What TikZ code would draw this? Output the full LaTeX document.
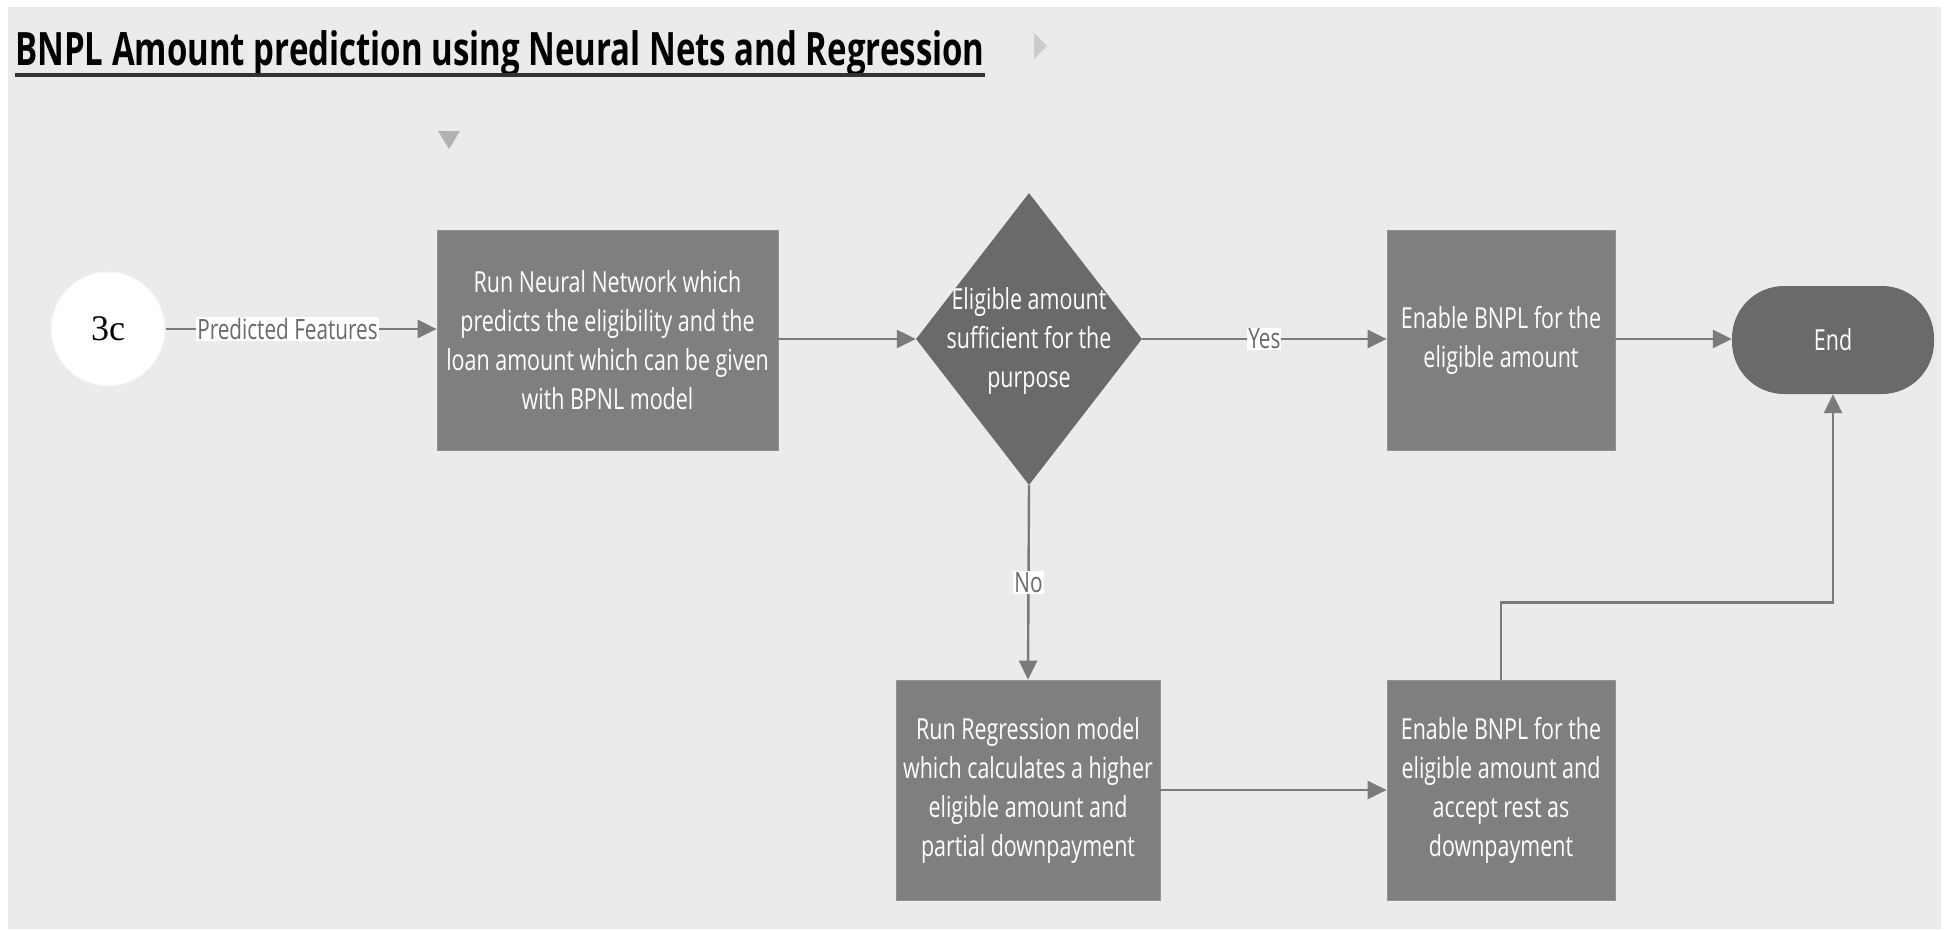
\documentclass[tikz,border=0pt]{standalone}
\usepackage{fontspec}
\usetikzlibrary{arrows.meta,shapes.geometric,calc}
\newfontfamily\flowfont[FakeStretch=0.74]{Open Sans}
\newfontfamily\flowbold[FakeStretch=0.717]{Open Sans Bold}
\newfontfamily\markfont{Liberation Serif}
\definecolor{pagebg}{HTML}{EBEBEB}
\definecolor{boxfill}{HTML}{7F7F7F}
\definecolor{darkfill}{HTML}{6A6A6A}
\definecolor{linegray}{HTML}{7A7A7A}
\definecolor{labelgray}{HTML}{6A6A6A}
\tikzset{
  boxfont/.style={font=\flowfont\fontsize{29}{39}\selectfont},
  processbox/.style={rectangle, fill=boxfill, draw=boxfill!85!white, line width=0.8pt,
    text=white, align=center, inner sep=0pt, boxfont},
  decision/.style={diamond, fill=darkfill, inner sep=0pt, minimum width=226pt, minimum height=292pt},
  decisiontext/.style={text=white, align=center, inner sep=0pt, boxfont},
  terminal/.style={rectangle, rounded corners=52pt, fill=darkfill, text=white,
    minimum width=202pt, minimum height=108pt, inner sep=0pt, boxfont},
  connector/.style={line width=2.4pt, draw=linegray, -{Triangle[length=19pt,width=18pt]}},
  edgelabel/.style={fill=white, text=labelgray, inner sep=1pt, font=\flowfont\fontsize{28}{30}\selectfont},
}
\begin{document}
\begin{tikzpicture}[x=1pt,y=-1pt]
  % page background with its light frame
  \fill[white] (0,0) rectangle (1946,929);
  \fill[pagebg] (8,7) rectangle (1941,929);
  \useasboundingbox (0,0) rectangle (1946,929);

  % heading
  \node[anchor=base west, inner sep=0pt, font=\flowbold\fontsize{46}{50}\selectfont] (title) at (15,65)
    {BNPL Amount prediction using Neural Nets and Regression};
  \draw[line width=4pt, draw=black!80] ([yshift=-10pt]title.base west) -- ([yshift=-10pt]title.base east);

  % small marker triangles
  \fill[black!20] (1034,33) -- (1047,46) -- (1034,59) -- cycle;
  \fill[black!30] (438,131) -- (460,131) -- (449,149) -- cycle;

  % nodes
  \node[circle, fill=white, draw=blue!5, line width=1pt, minimum size=114pt, inner sep=0pt,
        font=\markfont\fontsize{36}{40}\selectfont] (start) at (108,329) {3c};
  \node[processbox, minimum width=341pt, minimum height=220pt] (nn) at (607.5,340)
    {Run Neural Network which\\predicts the eligibility and the\\loan amount which can be given\\with BPNL model};
  \node[decision] (dec) at (1029,339) {};
  \node[decisiontext] (dectext) at (1029,341) {Eligible amount\\sufficient for the\\purpose};
  \node[processbox, minimum width=228pt, minimum height=220pt] (full) at (1501,340)
    {Enable BNPL for the\\eligible amount};
  \node[terminal] (stop) at (1833,340) {End};
  \node[processbox, minimum width=264pt, minimum height=220pt] (reg) at (1028,790)
    {Run Regression model\\which calculates a higher\\eligible amount and\\partial downpayment};
  \node[processbox, minimum width=228pt, minimum height=220pt] (part) at (1501,790)
    {Enable BNPL for the\\eligible amount and\\accept rest as\\downpayment};

  % connectors
  \draw[connector] (start.east) -- node[edgelabel, pos=0.45] {Predicted Features} (start.east -| nn.west);
  \draw[connector] (dec.west -| nn.east) -- (dec.west);
  \draw[connector] (dec.east) -- node[edgelabel] {Yes} (dec.east -| full.west);
  \draw[connector] (dec.east -| full.east) -- (dec.east -| stop.west);
  \draw[connector] (dec.south) -- node[edgelabel] {No} (reg.north);
  \draw[connector] (reg) -- (part);
  \draw[connector] (part.north) -- ++(0,-77) -| (stop.south);
\end{tikzpicture}
\end{document}
